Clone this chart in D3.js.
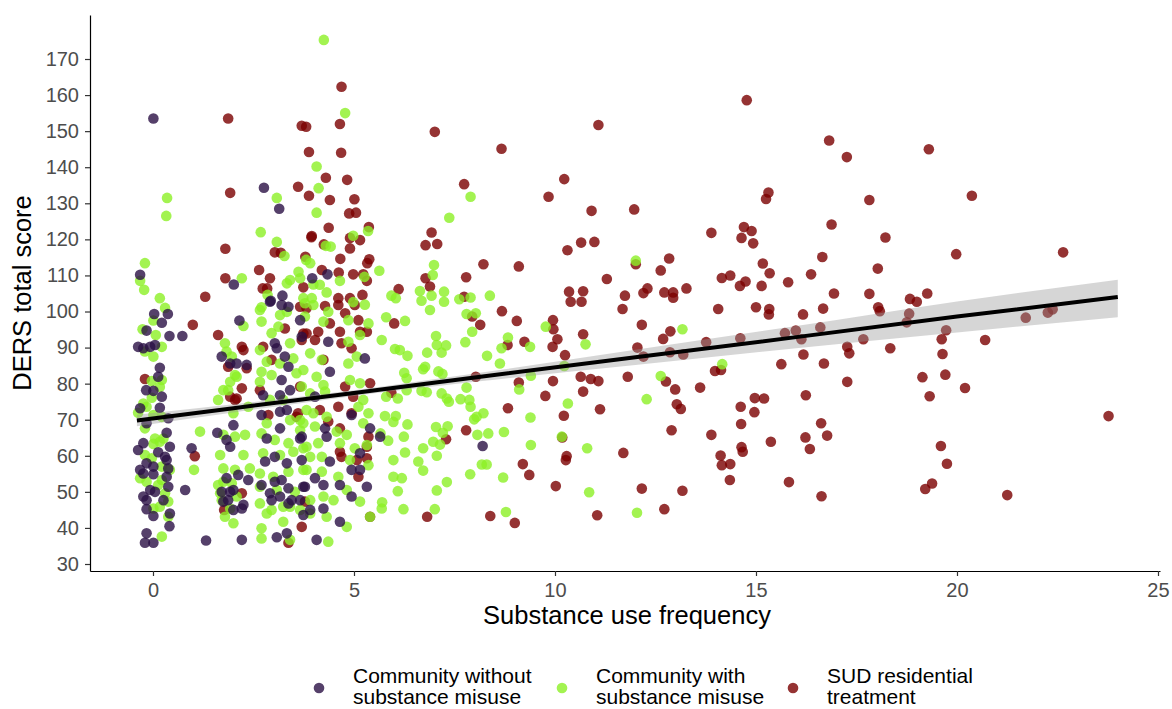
<!DOCTYPE html>
<html>
<head>
<meta charset="utf-8">
<script src="https://d3js.org/d3.v7.min.js"></script>
<style>
  body { margin: 0; background: #fff; }
  svg { font-family: "Liberation Sans", Arial, Helvetica, sans-serif; }
  .axis .domain { stroke: #000; stroke-width: 1.2; }
  .axis .tick line { stroke: #333; stroke-width: 1.2; }
  .axis .tick text { fill: #4d4d4d; font-size: 20px; }
  .title { font-size: 25.5px; fill: #000; }
  .legend text { font-size: 21px; fill: #000; }
</style>
</head>
<body>
<svg id="chart" width="1172" height="709"></svg>
<script>
// groups / legend labels
const groups = ['noMisuse', 'withMisuse', 'sud'];
const groupLabels = [
  ['Community without', 'substance misuse'],
  ['Community with', 'substance misuse'],
  ['SUD residential', 'treatment']
];
const groupColors = ['#2a1045', '#8cf025', '#7a0000'];

const xTicks = [0, 5, 10, 15, 20, 25];
const yTicks = [30, 40, 50, 60, 70, 80, 90, 100, 110, 120, 130, 140, 150, 160, 170];

// [substance use frequency, DERS total score]
const noMisuse = [
  [0.01,153.5],[2.76,134.3],[3.14,128.5],[-0.32,110.2],[2.01,107.5],[3.96,109.2],[4.34,110.3],[3.22,104.4],[2.93,103.0],
  [0.03,99.3],[0.37,99.3],[0.22,96.9],[-0.16,94.7],[0.41,93.2],[0.73,93.2],[-0.37,90.2],[-0.24,89.8],[-0.07,90.2],[0.05,90.7],
  [0.17,84.4],[0.13,81.9],[-0.17,78.2],[0.01,78.0],[0.22,76.4],[-0.32,73.2],[0.17,73.3],[-0.16,69.0],[0.38,70.4],[0.34,66.4],
  [0.42,62.5],[-0.24,63.5],[-0.37,61.6],[0.13,61.0],[0.30,59.7],[0.34,58.8],[-0.16,57.9],[0.01,57.0],[-0.32,56.1],[0.38,56.5],
  [-0.24,55.1],[0.01,54.9],[0.34,54.2],[-0.07,50.5],[0.05,50.0],[-0.24,48.7],[0.38,51.4],[-0.16,47.7],[0.26,47.7],[-0.16,45.2],
  [0.01,43.3],[0.42,44.0],[0.41,40.5],[-0.16,38.5],[-0.20,35.9],[0.01,35.9],[0.80,50.5],[0.96,62.1],[1.32,36.5],[1.60,66.4],
  [1.71,87.5],[1.92,85.6],[2.08,85.6],[2.00,68.5],[1.83,64.4],[1.92,62.5],[1.83,53.8],[1.92,50.0],[2.00,50.5],[1.75,47.3],
  [1.87,47.7],[2.00,45.0],[2.15,97.5],[2.33,85.2],[2.37,53.3],[2.12,54.7],[1.71,50.0],[2.25,46.4],[2.21,45.4],[2.21,36.7],
  [2.91,102.7],[3.20,101.8],[3.37,101.3],[3.66,97.6],[3.70,93.0],[3.03,91.2],[3.08,89.8],[3.28,87.5],[3.37,84.7],[3.20,81.0],
  [3.41,78.2],[2.74,76.8],[3.16,76.8],[2.70,71.3],[3.16,72.2],[3.33,72.7],[3.16,67.6],[2.83,64.8],[3.66,64.8],[2.79,58.4],
  [3.03,59.7],[3.33,57.9],[3.70,58.8],[2.70,51.9],[3.03,52.8],[3.20,53.3],[3.37,51.0],[3.74,51.4],[2.91,49.6],[3.16,48.7],
  [3.45,47.7],[3.66,47.7],[2.95,47.7],[3.37,46.8],[3.74,43.6],[3.08,37.4],[3.33,38.5],[4.36,91.6],[5.27,87.0],[4.40,83.3],
  [4.03,76.4],[4.94,71.3],[5.40,67.6],[5.65,65.3],[3.70,65.3],[4.28,67.6],[4.32,65.3],[4.40,58.4],[5.15,60.7],[4.94,56.1],
  [5.15,56.1],[4.03,53.8],[3.78,51.4],[4.24,51.9],[4.65,51.9],[4.94,48.7],[5.32,51.4],[4.24,45.4],[3.91,45.0],[4.07,36.7],
  [4.65,41.7],[8.20,62.7]
];

const withMisuse = [
  [4.25,175.3],[4.78,155.0],[4.07,140.2],[4.12,134.2],[0.35,131.5],[3.08,131.5],[0.33,126.5],[4.07,127.4],[5.35,122.3],[2.68,122.0],
  [4.98,121.0],[3.08,119.3],[4.30,118.2],[4.42,118.0],[3.27,115.4],[-0.2,113.4],[3.81,114.3],[3.91,113.4],[-0.32,108.5],[-0.22,106.0],
  [2.21,109.2],[3.62,111.0],[3.66,109.2],[4.65,108.5],[5.26,109.6],[5.63,111.3],[3.33,107.8],[3.41,108.7],[2.85,104.6],[3.99,107.5],
  [4.15,107.4],[4.32,105.3],[0.17,103.7],[2.70,101.2],[3.74,103.7],[3.95,103.7],[4.98,102.6],[5.27,101.9],
  [0.30,101.0],[0.01,97.5],[-0.26,95.1],[0.07,93.5],[0.22,90.2],[0.01,87.5],[-0.20,88.9],[-0.03,80.7],[0.22,81.0],[0.17,79.1],
  [-0.03,76.1],[-0.24,74.5],[-0.37,71.9],[-0.16,73.6],[0.01,71.3],[0.22,70.8],[-0.20,67.6],[0.05,64.8],[0.26,64.8],[0.01,63.3],
  [0.17,63.9],[-0.20,60.2],[-0.03,59.3],[0.22,57.0],[0.42,56.1],[-0.32,53.8],[-0.16,52.8],[0.22,53.3],[0.13,51.9],[0.30,49.6],
  [0.38,47.3],[0.01,45.4],[0.17,45.9],[0.38,43.1],[0.22,37.6],[1.17,66.7],[1.02,56.1],[1.62,75.5],[1.79,91.2],[1.83,88.9],
  [1.96,87.5],[1.92,80.5],[2.08,81.9],[1.87,78.2],[1.75,65.8],[1.67,60.2],[2.04,65.3],[1.75,56.5],[1.75,52.8],[1.67,49.6],
  [1.71,47.7],[1.79,43.1],[1.92,45.4],
  [2.25,96.0],[2.04,82.4],[1.75,78.2],[2.00,71.8],[2.37,73.6],[2.29,65.8],[2.25,60.2],[2.04,56.1],[2.41,56.5],[1.62,51.9],
  [1.96,52.4],[2.08,48.7],[2.00,41.3],[2.66,100.4],[2.70,97.2],[3.16,99.0],[3.33,99.9],[3.12,95.8],[2.95,94.0],[3.41,91.2],
  [2.66,89.3],[2.83,86.1],[3.16,85.6],[3.49,87.0],[2.70,83.3],[2.66,80.5],[2.95,82.4],[3.57,82.9],[2.91,75.5],[3.24,75.5],
  [2.83,69.0],[3.41,69.9],[3.66,69.9],[2.70,66.2],[3.03,64.4],[3.37,63.5],[3.66,67.1],[2.74,60.7],[3.16,60.2],[3.49,61.1],
  [3.74,62.1],[2.66,55.1],[2.99,54.2],[3.37,55.6],[3.74,56.1],[2.66,51.4],[3.08,50.5],[3.53,50.0],[2.66,46.8],[2.83,44.0],
  [2.95,45.0],[3.24,45.9],[3.41,45.9],[3.24,41.7],[3.66,45.0],[2.70,39.9],[2.70,37.1],
  [3.78,102.3],[3.99,101.8],[4.36,99.9],[4.86,97.6],[3.78,98.6],[4.24,97.2],[5.36,96.7],[5.69,92.1],[4.86,85.6],[5.07,87.5],
  [3.91,88.4],[4.20,86.6],[4.86,91.6],[5.15,93.5],[3.74,83.8],[4.07,81.9],[3.70,79.2],[4.24,79.6],[4.90,81.0],[5.15,80.1],
  [3.91,77.3],[4.28,77.8],[5.23,75.5],[3.82,72.7],[3.99,71.8],[4.32,70.8],[5.11,73.6],[5.36,71.8],[3.74,69.0],[4.03,68.1],
  [4.57,66.7],[4.82,65.8],[5.23,69.0],[3.82,62.5],[4.11,63.5],[4.65,63.5],[5.02,62.1],[5.32,63.0],[3.91,59.7],[4.20,59.7],
  [4.90,58.8],[5.36,57.4],[3.82,56.1],[4.20,55.6],[4.61,54.2],[4.82,50.5],[4.24,48.7],[3.91,47.7],[4.49,47.7],[5.15,47.3],
  [5.69,45.4],[5.40,43.1],[4.32,43.1],[3.91,44.0],[4.82,40.3],[4.36,36.2],[3.41,36.7],
  [7.90,131.8],[7.37,126.0],[6.99,112.9],[6.96,110.1],[5.93,104.4],[6.04,103.7],[6.64,105.7],[6.68,103.0],[6.93,104.4],[7.24,105.5],
  [7.24,102.7],[7.62,103.4],[7.90,103.9],[8.38,104.4],[6.89,100.4],[5.80,98.4],[6.27,97.4],[7.80,99.3],[8.03,99.5],[9.77,95.8],
  [7.04,93.2],[7.06,90.7],[7.29,90.6],[7.18,88.6],[7.77,91.5],[7.94,94.4],[8.83,92.8],[8.67,89.8],[9.38,90.2],[6.02,89.6],
  [6.14,89.3],[6.33,87.7],[6.82,88.6],[8.31,87.7],[8.63,85.6],[10.76,90.9],[6.25,83.0],[6.72,84.0],[6.77,84.7],[7.10,83.4],
  [7.20,82.7],[6.31,81.5],[9.40,82.2],[10.23,84.9],[5.80,76.4],[6.09,75.9],[6.31,78.2],[6.68,78.0],[6.81,77.6],[7.18,77.3],
  [7.31,75.9],[7.36,75.0],[7.65,75.7],[7.87,75.5],[7.90,73.6],[7.80,78.9],[9.11,78.4],[10.32,74.5],[5.77,71.0],[6.04,71.0],
  [6.33,68.7],[5.98,69.4],[7.04,68.0],[7.33,68.2],[7.21,66.4],[8.22,71.8],[8.05,70.8],[7.99,70.1],[9.39,70.6],[5.66,66.2],
  [5.85,64.2],[6.24,65.3],[6.97,63.9],[7.14,63.1],[8.07,65.8],[8.34,66.2],[8.73,66.6],[10.17,65.3],[6.72,62.1],[7.06,60.0],
  [6.27,60.9],[5.98,58.8],[6.60,58.4],[6.72,55.9],[8.18,57.6],[8.30,57.6],[9.40,63.0],[10.80,62.1],[5.98,54.2],[6.19,53.8],
  [6.09,50.2],[7.31,52.7],[7.06,50.4],[7.89,54.9],[8.71,54.0],[10.85,49.9],[5.70,47.1],[6.23,45.2],[7.01,45.2],[8.78,44.4],
  [12.01,114.1],[13.17,95.1],[14.16,85.4],[12.63,82.1],[12.28,75.7],[12.04,44.2]
];

const sud = [
  [4.69,162.3],[1.87,153.5],[3.70,151.5],[3.81,151.2],[4.65,152.0],[3.88,144.2],[4.68,144.0],[4.30,137.1],[4.83,136.5],[3.61,134.6],
  [1.92,132.9],[3.88,132.1],[4.40,130.9],[5.01,131.1],[5.05,127.4],[4.88,127.2],[4.37,123.2],[5.37,123.4],[3.95,120.9],[3.94,120.6],
  [4.90,120.4],[5.15,119.8],[4.25,118.6],[4.90,117.5],[1.80,117.4],[3.03,116.4],[3.18,116.3],[4.66,114.6],[5.38,114.5],[5.33,113.4],
  [3.79,115.2],[2.64,111.5],[1.80,109.2],[2.91,109.2],[4.20,111.5],[4.62,110.8],[4.98,110.3],[5.23,110.3],[5.32,108.5],[1.30,104.1],
  [2.73,106.4],[2.84,106.4],[3.74,106.7],[4.61,103.7],[4.90,103.7],[5.21,104.6],[4.28,101.5],
  [0.99,96.3],[-0.20,81.3],[1.04,59.9],[1.62,93.5],[1.87,84.7],[1.92,76.4],[2.04,75.5],[1.77,45.0],[2.25,89.3],[2.21,90.2],
  [2.33,84.3],[2.21,78.7],[2.08,75.9],[2.21,49.6],[3.66,101.3],[3.82,100.9],[3.28,95.3],[3.82,93.9],[3.70,92.1],[2.74,90.2],
  [2.95,86.6],[2.66,78.2],[3.66,79.2],[2.87,71.3],[3.57,70.8],[3.37,35.9],[3.70,40.3],
  [4.61,101.8],[5.02,101.8],[4.78,99.5],[5.11,97.6],[3.74,93.9],[4.11,94.4],[4.03,92.1],[4.65,94.4],[4.40,96.7],[5.15,94.4],
  [4.69,91.2],[4.94,89.8],[5.32,94.4],[4.24,86.6],[4.78,79.2],[5.40,80.1],[4.98,76.4],[3.61,71.8],[4.15,72.7],[4.61,73.6],
  [4.94,71.8],[4.36,69.5],[4.65,67.6],[5.36,65.3],[5.32,62.5],[4.65,61.1],[4.69,59.7],[5.07,58.8],[5.32,59.3],[5.11,54.2],
  [3.78,47.3],[5.40,43.1],
  [7.01,149.8],[8.67,145.1],[11.08,151.7],[7.74,135.3],[10.23,136.7],[9.84,131.8],[10.91,127.9],[6.93,121.9],[6.78,118.4],[7.07,118.7],
  [10.31,117.0],[10.65,119.1],[10.98,119.3],[8.22,113.1],[9.10,112.5],[6.78,109.2],[6.89,106.9],[7.79,109.5],[6.11,106.2],[11.29,109.0],
  [10.35,105.5],[10.70,105.6],[10.39,102.7],[10.66,102.7],[7.74,104.1],[8.68,100.1],[6.00,96.7],[7.94,98.6],[8.14,96.3],[9.05,97.4],
  [9.95,97.6],[9.96,95.1],[10.06,92.3],[9.94,90.2],[10.70,93.7],[8.82,90.7],[9.24,91.6],[10.25,87.9],[8.03,81.9],[5.93,77.5],
  [9.10,80.3],[9.95,80.7],[10.64,81.9],[10.89,81.3],[11.08,80.7],[10.70,77.8],[9.76,76.6],[8.83,73.2],[10.22,71.1],[11.12,72.9],
  [7.79,67.1],[7.29,64.6],[10.18,65.1],[10.29,59.9],[10.27,58.8],[9.20,57.7],[9.36,54.7],[10.02,51.6],[6.82,43.1],[8.39,43.3],
  [9.00,41.4],[11.05,43.5],
  [14.77,158.6],[16.82,147.4],[17.26,142.8],[15.31,133.0],[15.25,131.2],[11.97,128.3],[17.82,130.9],[16.88,124.1],[13.89,121.8],[14.70,123.4],
  [14.89,122.3],[14.64,120.4],[14.93,118.9],[12.01,113.1],[12.84,114.7],[12.63,111.4],[15.17,113.3],[15.34,110.6],[16.65,115.1],[14.15,109.3],
  [14.36,110.0],[14.60,107.1],[14.74,108.3],[15.14,107.1],[15.80,108.1],[16.37,110.3],[12.30,106.4],[12.20,105.1],[12.72,105.3],[12.94,105.3],
  [12.94,103.8],[13.27,106.4],[11.74,104.4],[11.68,100.7],[14.06,100.7],[15.00,101.2],[15.33,100.7],[15.32,99.2],[16.17,99.2],[16.67,100.8],
  [16.94,105.0],[17.82,104.9],[12.16,96.3],[12.87,94.5],[12.69,92.4],[12.05,90.0],[12.20,87.5],[12.86,88.7],[13.19,88.1],[13.76,91.5],
  [14.61,92.6],[15.72,94.0],[15.99,94.7],[16.13,92.3],[16.60,95.6],[17.67,92.3],[17.27,90.2],[17.32,88.4],[16.18,88.1],[16.69,85.6],
  [15.63,85.4],[11.81,81.9],[12.76,80.6],[12.99,78.4],[13.61,78.9],[13.98,83.5],[14.13,83.8],[17.27,80.5],[13.03,74.3],[13.13,73.0],
  [14.97,76.0],[15.20,75.9],[14.62,73.6],[14.96,72.1],[16.24,76.8],[12.90,67.1],[13.89,65.8],[14.63,68.8],[16.62,69.0],[16.77,65.6],
  [16.23,65.1],[16.34,61.9],[15.37,63.9],[14.64,62.4],[14.67,61.1],[11.70,60.8],[14.12,60.1],[14.15,57.4],[14.36,57.7],[14.35,53.3],
  [15.82,52.7],[16.63,48.8],[12.16,50.9],[13.17,50.3],[12.72,45.2],
  [19.30,145.0],[20.37,132.1],[18.22,120.5],[19.98,115.9],[22.64,116.4],[18.03,111.9],[19.26,105.0],[18.83,103.5],[19.00,102.7],[18.04,101.2],
  [18.08,100.1],[18.81,99.4],[18.75,97.0],[19.73,94.8],[19.62,92.3],[20.70,92.1],[18.34,89.8],[19.64,88.2],[21.71,98.3],[22.26,99.7],
  [22.38,100.6],[19.14,81.8],[19.71,82.5],[20.20,78.8],[19.32,76.5],[23.77,71.0],[19.60,62.7],[19.75,57.8],[19.38,52.3],[19.21,50.8],
  [21.25,49.1]
];

// linear fit with 95% band
const fitX    = [-0.4, 2, 5, 8, 12, 16, 20, 24];
const fitMid  = [69.8, 73.2, 77.4, 81.7, 87.3, 92.9, 98.6, 104.0];
const fitLow  = [68.2, 72.0, 76.6, 80.5, 85.2, 89.8, 94.2, 98.4];
const fitHigh = [71.4, 74.3, 78.2, 82.8, 89.4, 96.0, 102.8, 108.8];

const svg = d3.select('#chart');
const plot = { left: 90, right: 1160, top: 15, bottom: 571 };

const x = d3.scaleLinear().domain([-1.567, 25.05]).range([plot.left, plot.right]);
const y = d3.scaleLinear().domain([28.06, 182.2]).range([plot.bottom, plot.top]);

// points
const series = [sud, withMisuse, noMisuse];
const seriesColor = [groupColors[2], groupColors[1], groupColors[0]];
series.forEach(function (data, i) {
  svg.append('g')
    .selectAll('circle')
    .data(data)
    .enter()
    .append('circle')
    .attr('cx', d => x(d[0]))
    .attr('cy', d => y(d[1]))
    .attr('r', 5.3)
    .attr('fill', seriesColor[i])
    .attr('fill-opacity', 0.8);
});

// confidence band + fit line
const fit = fitX.map((v, i) => ({ x: v, mid: fitMid[i], lo: fitLow[i], hi: fitHigh[i] }));
svg.append('path')
  .datum(fit)
  .attr('d', d3.area().curve(d3.curveMonotoneX)
    .x(d => x(d.x)).y0(d => y(d.lo)).y1(d => y(d.hi)))
  .attr('fill', '#999999')
  .attr('fill-opacity', 0.4);
svg.append('path')
  .datum(fit)
  .attr('d', d3.line().x(d => x(d.x)).y(d => y(d.mid)))
  .attr('fill', 'none')
  .attr('stroke', '#000')
  .attr('stroke-width', 4);

// axes
svg.append('g')
  .attr('class', 'axis')
  .attr('transform', 'translate(0,' + plot.bottom + ')')
  .call(d3.axisBottom(x).tickValues(xTicks).tickSize(5).tickSizeOuter(0).tickPadding(7));
svg.append('g')
  .attr('class', 'axis')
  .attr('transform', 'translate(' + plot.left + ',0)')
  .call(d3.axisLeft(y).tickValues(yTicks).tickSize(5).tickSizeOuter(0).tickPadding(6));

// titles
svg.append('text')
  .attr('class', 'title')
  .attr('x', (plot.left + plot.right) / 2 + 2)
  .attr('y', 624)
  .attr('text-anchor', 'middle')
  .text('Substance use frequency');
svg.append('text')
  .attr('class', 'title')
  .attr('transform', 'translate(31,' + (plot.top + plot.bottom) / 2 + ') rotate(-90)')
  .attr('text-anchor', 'middle')
  .text('DERS total score');

// legend
const legendX = [319, 562, 793];
const legend = svg.append('g').attr('class', 'legend');
groups.forEach(function (g, i) {
  legend.append('circle')
    .attr('cx', legendX[i])
    .attr('cy', 688)
    .attr('r', 5.3)
    .attr('fill', groupColors[i])
    .attr('fill-opacity', 0.8);
  const t = legend.append('text')
    .attr('x', legendX[i] + 34)
    .attr('y', 683);
  groupLabels[i].forEach(function (line, j) {
    t.append('tspan')
      .attr('x', legendX[i] + 34)
      .attr('dy', j === 0 ? 0 : 21)
      .text(line);
  });
});
</script>
</body>
</html>
